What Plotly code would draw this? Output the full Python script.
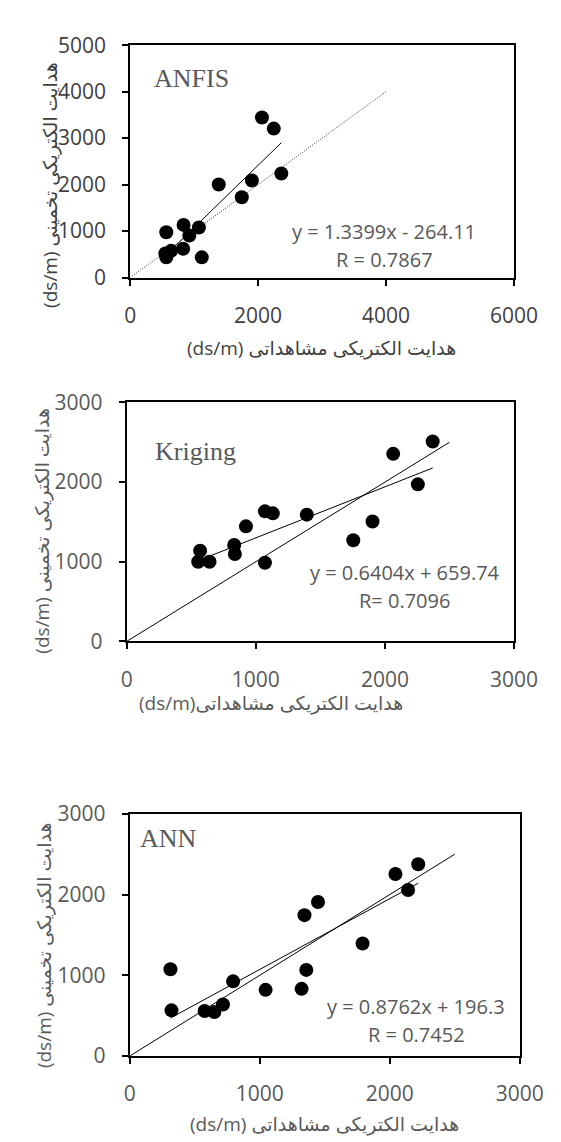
import plotly.graph_objects as go

W, H = 561, 1142

# ---------------- data ----------------
anfis_obs = [2060, 2245, 2363, 1385, 1903, 1745, 835, 1075, 925, 565, 828, 1120, 550, 640, 565]
anfis_pred = [3445, 3205, 2238, 2003, 2090, 1727, 1134, 1078, 906, 975, 620, 435, 520, 575, 435]

krig_obs = [2370, 2064, 2255, 1904, 1755, 1395, 1071, 1132, 924, 833, 838, 1071, 569, 554, 642]
krig_pred = [2510, 2355, 1972, 1506, 1270, 1592, 1633, 1608, 1445, 1212, 1098, 988, 1139, 1000, 1000]

ann_obs = [2219, 2044, 2141, 1448, 1344, 1791, 1358, 1322, 1045, 795, 717, 651, 576, 321, 313]
ann_pred = [2376, 2254, 2056, 1907, 1745, 1394, 1067, 832, 820, 925, 638, 545, 558, 566, 1075]

model_names = ["ANFIS", "Kriging", "ANN"]
slopes = [1.3399, 0.6404, 0.8762]
intercepts = [-264.11, 659.74, 196.3]
eq_texts = ["y = 1.3399x - 264.11", "y = 0.6404x + 659.74", "y = 0.8762x + 196.3"]
r_texts = ["R = 0.7867", "R= 0.7096", "R = 0.7452"]
one_to_one_end = [4000, 2500, 2500]
x_max = [6000, 3000, 3000]
y_max = [5000, 3000, 3000]
x_dtick = [2000, 1000, 1000]
y_dtick = [1000, 1000, 1000]
x_titles = ["(ds/m) هدایت الکتریکی مشاهداتی",
            "(ds/m)هدایت الکتریکی مشاهداتی",
            "(ds/m) هدایت الکتریکی مشاهداتی"]
y_title = "(ds/m) هدایت الکتریکی تخمینی"

obs = [anfis_obs, krig_obs, ann_obs]
pred = [anfis_pred, krig_pred, ann_pred]

# ---------------- layout geometry (pixels) ----------------
boxes = [  # x0, x1, ytop, ybottom
    (122.7, 528.3, 22.7, 261.0),
    (119.0, 528.3, 389.0, 634.0),
    (122.3, 534.3, 810.7, 1059.0),
]
tick_colors = ["#404040", "#595959", "#595959"]
title_colors = ["#404040", "#595959", "#595959"]
name_pos = [(146, 57), (147, 439), (131, 836)]
eq_pos = [(391, 214, 242), (413, 563.5, 592), (425, 1008, 1037)]
xtitle_pos = [(325, 333), (272, 697), (328, 1129)]
ytitle_pos = [(38, 166), (30, 520), (32, 945)]


def px(x):
    return x / W


def py(y):
    return 1 - y / H


fig = go.Figure()
annotations = []

for i in range(3):
    ax = "" if i == 0 else str(i + 1)
    xa, ya = "x" + ax, "y" + ax
    # 1:1 line
    fig.add_trace(go.Scatter(
        x=[0, one_to_one_end[i]], y=[0, one_to_one_end[i]], mode="lines",
        line=dict(color="black", width=0.8 if i == 0 else 1,
                  dash="1px,1.5px" if i == 0 else "solid"),
        xaxis=xa, yaxis=ya, showlegend=False, hoverinfo="skip"))
    # trend line
    xs = [min(obs[i]), max(obs[i])]
    ys = [slopes[i] * v + intercepts[i] for v in xs]
    fig.add_trace(go.Scatter(
        x=xs, y=ys, mode="lines", line=dict(color="black", width=1),
        xaxis=xa, yaxis=ya, showlegend=False, hoverinfo="skip"))
    # points
    fig.add_trace(go.Scatter(
        x=obs[i], y=pred[i], mode="markers",
        marker=dict(color="black", size=14, line=dict(width=0)),
        xaxis=xa, yaxis=ya, showlegend=False))

    x0, x1, yt, yb = boxes[i]
    axis_common = dict(
        showgrid=False, zeroline=False, showline=True, linecolor="black",
        linewidth=2, mirror=True, ticks="outside", ticklen=6, tickwidth=2,
        tickcolor="black", ticklabelstandoff=12,
        tickfont=dict(family="Open Sans", size=21, color=tick_colors[i]),
    )
    fig.layout["xaxis" + ax] = dict(
        domain=[px(x0), px(x1)], range=[0, x_max[i]], dtick=x_dtick[i], tick0=0,
        anchor=ya, **axis_common)
    fig.layout["yaxis" + ax] = dict(
        domain=[py(yb), py(yt)], range=[0, y_max[i]], dtick=y_dtick[i], tick0=0,
        anchor=xa, **axis_common)

    # model name
    annotations.append(dict(
        text=model_names[i], xref="paper", yref="paper",
        x=px(name_pos[i][0]), y=py(name_pos[i][1]), xanchor="left", yanchor="middle",
        showarrow=False, font=dict(family="Liberation Serif", size=26, color="#595959")))
    # equation and R
    ex, ey1, ey2 = eq_pos[i]
    annotations.append(dict(
        text=eq_texts[i], xref="paper", yref="paper", x=px(ex), y=py(ey1),
        xanchor="center", yanchor="middle", showarrow=False,
        font=dict(family="Open Sans", size=20, color="#595959")))
    annotations.append(dict(
        text=r_texts[i], xref="paper", yref="paper", x=px(ex), y=py(ey2),
        xanchor="center", yanchor="middle", showarrow=False,
        font=dict(family="Open Sans", size=20, color="#595959")))
    # axis titles
    annotations.append(dict(
        text=x_titles[i], xref="paper", yref="paper",
        x=px(xtitle_pos[i][0]), y=py(xtitle_pos[i][1]),
        xanchor="center", yanchor="middle", showarrow=False,
        font=dict(family="Open Sans, DejaVu Sans", size=19, color=title_colors[i])))
    annotations.append(dict(
        text=y_title, xref="paper", yref="paper",
        x=px(ytitle_pos[i][0]), y=py(ytitle_pos[i][1]), textangle=-90,
        xanchor="center", yanchor="middle", showarrow=False,
        font=dict(family="Open Sans, DejaVu Sans", size=19, color=title_colors[i])))

fig.update_layout(
    width=W, height=H, autosize=False,
    margin=dict(l=0, r=0, t=0, b=0),
    paper_bgcolor="white", plot_bgcolor="white",
    annotations=annotations,
)

fig.write_html("out.html")
